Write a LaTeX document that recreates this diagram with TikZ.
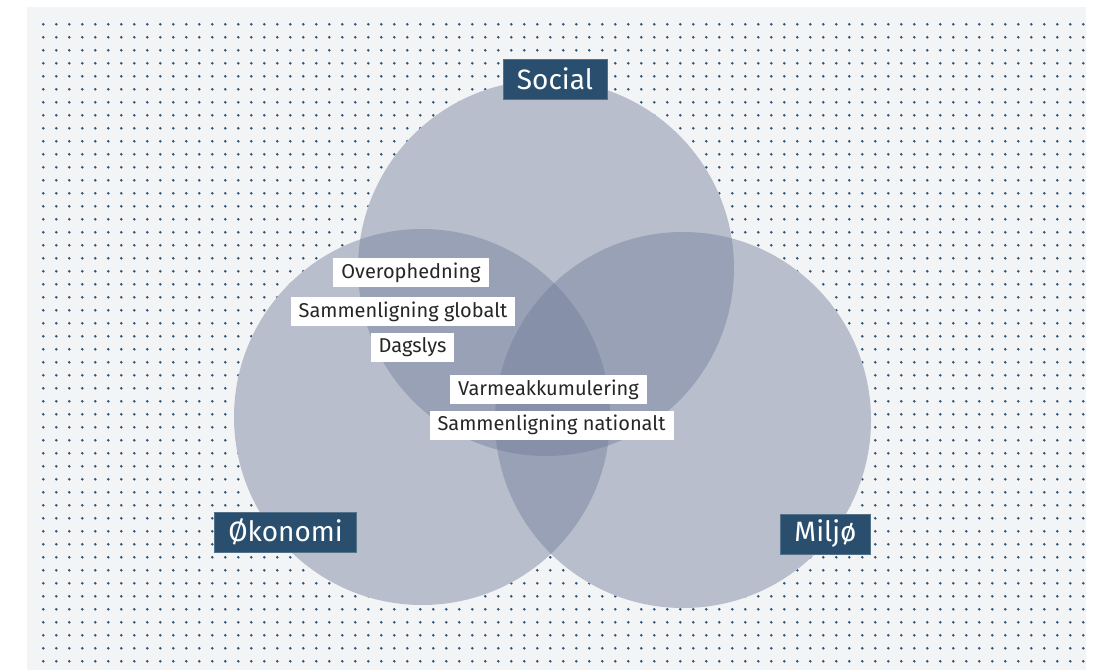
\documentclass[tikz,border=0pt]{standalone}
\usepackage{fontspec}
\setmainfont{Fira Sans}
\usetikzlibrary{positioning}
\definecolor{paper}{HTML}{F3F4F6}
\definecolor{dotblue}{HTML}{2B5377}
\definecolor{setfill}{RGB}{114,126,155}
\definecolor{tagblue}{HTML}{2A4F6E}
\tikzset{
  setbase/.style={fill=paper},
  setcirc/.style={fill=setfill,fill opacity=0.45},
  gdot/.style={fill=dotblue},
  dimtag/.style={fill=tagblue,draw=tagblue!80!white,line width=0.6pt,text=white,
    font=\fontsize{28}{30}\selectfont,minimum height=40pt,inner xsep=14pt,inner ysep=0pt},
  factor/.style={fill=white,text=black!85,font=\fontsize{20}{22}\selectfont,
    minimum height=29pt,inner xsep=8pt,inner ysep=0pt},
}
\begin{document}
\begin{tikzpicture}[x=1pt,y=-1pt]
  \useasboundingbox (0,0) rectangle (1094,670);
  \fill[white] (0,0) rectangle (1094,670);
  \fill[paper] (27,7) rectangle (1086,670);
  \foreach \i in {0,...,80}
    \foreach \j in {0,...,49}
      \fill[gdot] (43.3+13*\i,24.3+13*\j) circle[radius=1.4pt];
  \coordinate (soc) at (546,268);
  \coordinate (oek) at (422,417);
  \coordinate (mil) at (683,420);
  \foreach \c in {soc,oek,mil}
    \fill[setbase] (\c) circle[radius=188pt];
  \foreach \c in {soc,oek,mil}
    \fill[setcirc] (\c) circle[radius=188pt];
  \node[dimtag] (social) at (555,79) {Social};
  \node[dimtag] (okonomi) at (285.5,532) {Økonomi};
  \node[dimtag] (miljo) at (825.5,534) {Miljø};
  \node[factor] (overo) at (411,272.5) {Overophedning};
  \node[factor] (sglob) at (403,311.5) {Sammenligning globalt};
  \node[factor] (dags) at (412.5,347.5) {Dagslys};
  \node[factor] (varme) at (548.5,389.5) {Varmeakkumulering};
  \node[factor] (snat) at (551.5,425) {Sammenligning nationalt};
\end{tikzpicture}
\end{document}
